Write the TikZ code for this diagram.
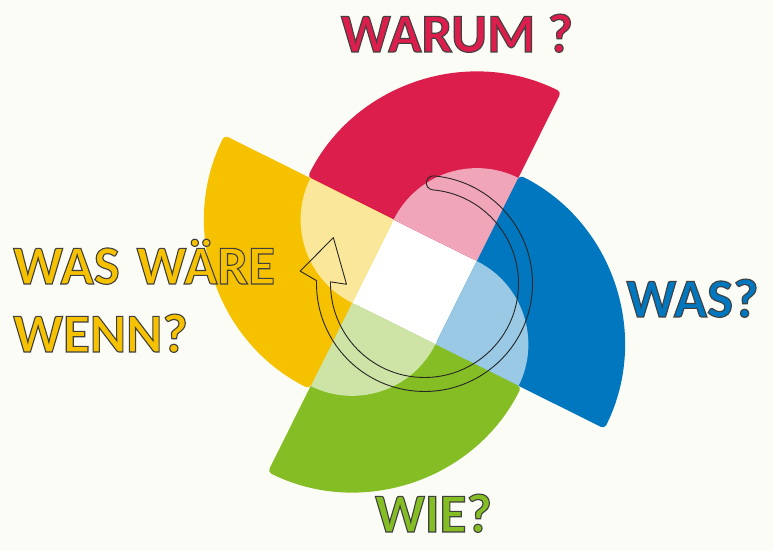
\documentclass[tikz,border=0pt]{standalone}
\usepackage{fontspec}
\setmainfont{Carlito}
\usetikzlibrary{calc}

\definecolor{warumred}{RGB}{220,30,77}
\definecolor{wasblue}{RGB}{0,119,190}
\definecolor{wiegreen}{RGB}{133,189,36}
\definecolor{wennyellow}{RGB}{246,194,0}
\definecolor{paper}{RGB}{252,252,246}

% coloured letters with a thin dark rim (fill and stroke)
\newcommand\outlined[2]{%
  {\color{#1}\special{pdf:code q 2 Tr 1.1 w 0.25 0.25 0.25 RG}#2\special{pdf:code Q}}}

\tikzset{
  question/.style={inner sep=0pt, font=\fontsize{55}{60}\selectfont\bfseries},
  ringline/.style={draw=black!85, line width=0.9pt, line join=round},
}

\begin{document}
\begin{tikzpicture}[x=1pt,y=1pt]
  % canvas
  \fill[paper] (0,0) rectangle (773,551);
  \useasboundingbox (0,0) rectangle (773,551);

  % four petals round the white square
  \begin{scope}[shift={(414.5,269)}, rotate=-26.5]
    \fill[white] (-46.5,-46.5) rectangle (46.5,46.5);
    \foreach \col/\ang/\cx/\cy in {warumred/90/1/1, wasblue/0/1/-1, wiegreen/-90/-1/-1, wennyellow/180/-1/1}{
      \fill[\col, rounded corners=4pt] (\cx*46.5,\cy*46.5) -- +(\ang:189)
        arc[start angle=\ang, end angle=\ang+90, radius=189] -- cycle;
      \fill[\col!40!white] (\cx*46.5,\cy*46.5) -- +(\ang:93)
        arc[start angle=\ang, end angle=\ang+90, radius=93] -- cycle;
    }
  \end{scope}

  % circular arrow
  \coordinate (hub) at (424.5,267.5);
  \draw[ringline] ($(hub)+(85:108)$) arc[start angle=85, end angle=-181.5, radius=108]
    -- ($(hub)+(174.3:125)$) -- ($(hub)+(153.3:102)$) -- ($(hub)+(180.6:78)$)
    -- ($(hub)+(-181:94)$) arc[start angle=-181, end angle=85, radius=94]
    arc[start angle=-95, end angle=-275, radius=7] -- cycle;

  % questions
  \node[question, anchor=base] (warum) at (457,499) {\outlined{warumred}{WARUM ?}};
  \node[question, anchor=base] (was) at (692.5,234) {\outlined{wasblue}{WAS?}};
  \node[question, anchor=base] (wie) at (433.5,19) {\outlined{wiegreen}{WIE?}};
  \node[question, anchor=base west] (waere) at (13,267) {\outlined{wennyellow}{WAS~\hspace{0.08em}WÄRE}};
  \node[question, anchor=base west] (wenn) at (13,199) {\outlined{wennyellow}{WENN?}};
\end{tikzpicture}
\end{document}
